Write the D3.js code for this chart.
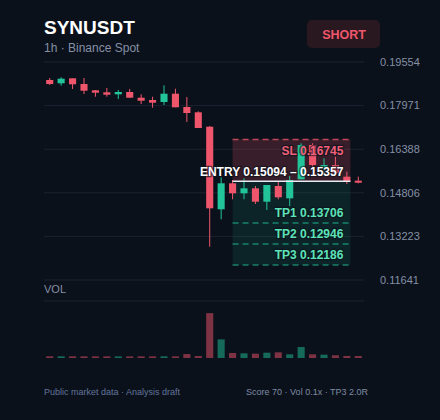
<!DOCTYPE html>
<html>
<head>
<meta charset="utf-8">
<script src="https://cdn.jsdelivr.net/npm/d3@7/dist/d3.min.js"></script>
<style>
  html, body { margin: 0; padding: 0; background: #0b111b; }
  svg { display: block; font-family: "Liberation Sans", Arial, sans-serif; }
</style>
</head>
<body>
<svg id="chart" width="440" height="420"></svg>
<script>
// candle data (1h)
const opens  = [0.18901,0.18781,0.18962,0.18755,0.18527,0.18454,0.18382,0.18465,0.18258,0.18175,0.18102,0.18403,0.17921,0.17728,
                0.17205,0.14207,0.15151,0.14788,0.14969,0.14483,0.15053,0.14606,0.15296,0.16541,0.15696,0.15815,0.15391,0.15245];
const highs  = [0.18973,0.18999,0.18962,0.18973,0.18538,0.18610,0.18538,0.18574,0.18382,0.18294,0.18708,0.18585,0.18284,0.17764,
                0.17231,0.15369,0.15271,0.15333,0.15053,0.15089,0.15209,0.15416,0.16603,0.16603,0.16058,0.16117,0.15572,0.15391];
const lows   = [0.18719,0.18694,0.18574,0.18392,0.18294,0.18294,0.18211,0.18258,0.18029,0.17895,0.17993,0.17910,0.17376,0.17158,
                0.12850,0.13844,0.14570,0.14570,0.14400,0.14182,0.14570,0.14327,0.15296,0.15754,0.15452,0.15452,0.15126,0.15151];
const closes = [0.18755,0.18948,0.18745,0.18512,0.18440,0.18367,0.18465,0.18258,0.18149,0.18077,0.18403,0.17910,0.17703,0.17158,
                0.14243,0.15151,0.14788,0.14969,0.14483,0.15089,0.14643,0.15271,0.16541,0.15815,0.15815,0.15514,0.15209,0.15173];
const volumes = [38,37,37,36,36,37,36,36,37,36,37,36,88,44,1000,415,112,104,96,118,126,82,245,82,74,60,45,44];

const priceTicks = [0.19554,0.17971,0.16388,0.14806,0.13223,0.11641];

const sl = 0.16745;
const entryLow = 0.15094, entryHigh = 0.15357;
const tps = [["TP1",0.13706],["TP2",0.12946],["TP3",0.12186]];
const zoneFrom = 16, zoneTo = 26;

const up = "#22c49a", down = "#f0566b";
const bg = "#0b111b", grid = "#1c2330", muted = "#8590a5";

const svg = d3.select("#chart");
const idx = d3.range(opens.length);

const x = d3.scaleBand().domain(idx).range([44, 364]).paddingInner(0.38).paddingOuter(0.19);
const y = d3.scaleLinear().domain([d3.min(priceTicks), d3.max(priceTicks)]).range([280, 62]);
const yv = d3.scaleLinear().domain([0, d3.max(volumes) * 1.27]).range([358, 301]);
const cx = i => x(i) + x.bandwidth() / 2;

// header
svg.append("text").attr("x", 44).attr("y", 34)
  .attr("fill", "#ffffff").attr("font-size", 19).attr("font-weight", "bold").text("SYNUSDT");
svg.append("text").attr("x", 44).attr("y", 52)
  .attr("fill", muted).attr("font-size", 12).text("1h · Binance Spot");
svg.append("rect").attr("x", 307).attr("y", 20).attr("width", 73).attr("height", 28)
  .attr("rx", 5).attr("fill", "#2a1820");
svg.append("text").attr("x", 344).attr("y", 39).attr("text-anchor", "middle")
  .attr("fill", down).attr("font-size", 12.5).attr("font-weight", "bold").text("SHORT");

// grid + price labels
svg.selectAll("line.grid").data(priceTicks).enter().append("line")
  .attr("x1", 44).attr("x2", 364).attr("y1", d => y(d)).attr("y2", d => y(d))
  .attr("stroke", grid).attr("stroke-width", 1);
svg.selectAll("text.tick").data(priceTicks).enter().append("text")
  .attr("x", 380).attr("y", d => y(d)).attr("dy", "0.35em")
  .attr("fill", muted).attr("font-size", 11).text(d => d.toFixed(5));

// trade zones
const zx0 = cx(zoneFrom), zx1 = x(zoneTo) + x.bandwidth();
const entryMid = (entryLow + entryHigh) / 2;
svg.append("rect").attr("x", zx0).attr("y", y(sl)).attr("width", zx1 - zx0)
  .attr("height", y(entryMid) - y(sl)).attr("fill", down).attr("fill-opacity", 0.2);
svg.append("rect").attr("x", zx0).attr("y", y(entryMid)).attr("width", zx1 - zx0)
  .attr("height", y(tps[2][1]) - y(entryMid)).attr("fill", up).attr("fill-opacity", 0.1);

svg.append("line").attr("x1", zx0).attr("x2", zx1).attr("y1", y(sl)).attr("y2", y(sl))
  .attr("stroke", down).attr("stroke-opacity", 0.75).attr("stroke-width", 1.5).attr("stroke-dasharray", "6,4");
svg.selectAll("line.tp").data(tps).enter().append("line")
  .attr("x1", zx0).attr("x2", zx1).attr("y1", d => y(d[1])).attr("y2", d => y(d[1]))
  .attr("stroke", up).attr("stroke-opacity", 0.6).attr("stroke-width", 1.5).attr("stroke-dasharray", "6,4");

// candles
const c = svg.append("g").selectAll("g").data(idx).enter().append("g");
c.append("line")
  .attr("x1", i => cx(i)).attr("x2", i => cx(i))
  .attr("y1", i => y(highs[i])).attr("y2", i => y(lows[i]))
  .attr("stroke", i => closes[i] >= opens[i] ? up : down).attr("stroke-width", 1);
c.append("rect")
  .attr("x", i => x(i)).attr("width", x.bandwidth())
  .attr("y", i => y(Math.max(opens[i], closes[i])))
  .attr("height", i => Math.max(1.5, Math.abs(y(opens[i]) - y(closes[i]))))
  .attr("fill", i => closes[i] >= opens[i] ? up : down);

// entry line
svg.append("line").attr("x1", zx0).attr("x2", zx1).attr("y1", y(entryMid)).attr("y2", y(entryMid))
  .attr("stroke", "#e8ecf2").attr("stroke-width", 1.5);

// zone labels
const lx = zx1 - 7;
function label(txt, yy, col) {
  svg.append("text").attr("x", lx).attr("y", yy).attr("dy", "0.35em").attr("text-anchor", "end")
    .attr("fill", col).attr("font-size", 12).attr("font-weight", "bold")
    .attr("stroke", bg).attr("stroke-width", 2.5).attr("stroke-opacity", 0.6)
    .attr("paint-order", "stroke").text(txt);
}
label("SL " + sl.toFixed(5), y(sl) + 11, "#f0607a");
label("ENTRY " + entryLow.toFixed(5) + " – " + entryHigh.toFixed(5), y(entryMid) - 9, "#ffffff");
tps.forEach(t => label(t[0] + " " + t[1].toFixed(5), y(t[1]) - 10, "#5de3b8"));

// volume panel
svg.append("line").attr("x1", 44).attr("x2", 364).attr("y1", 301).attr("y2", 301)
  .attr("stroke", grid).attr("stroke-width", 1);
svg.append("text").attr("x", 44).attr("y", 293).attr("fill", muted).attr("font-size", 11).text("VOL");
svg.append("g").selectAll("rect").data(idx).enter().append("rect")
  .attr("x", i => x(i)).attr("width", x.bandwidth())
  .attr("y", i => yv(volumes[i])).attr("height", i => yv(0) - yv(volumes[i]))
  .attr("fill", i => closes[i] >= opens[i] ? up : down).attr("fill-opacity", 0.5);

// footer
svg.append("text").attr("x", 44).attr("y", 395).attr("fill", "#62749a").attr("font-size", 9)
  .text("Public market data · Analysis draft");
svg.append("text").attr("x", 368).attr("y", 395).attr("text-anchor", "end").attr("fill", "#7f8ba3")
  .attr("font-size", 9).text("Score 70 · Vol 0.1x · TP3 2.0R");
</script>
</body>
</html>
